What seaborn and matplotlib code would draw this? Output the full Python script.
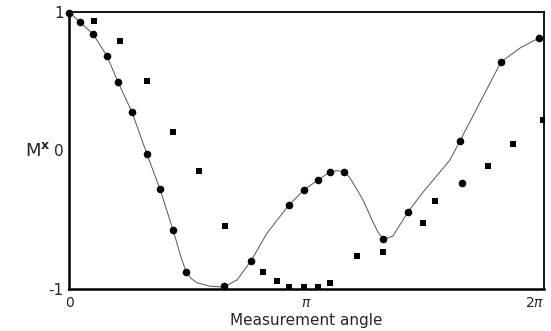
import numpy as np
import pandas as pd
import matplotlib
matplotlib.use("Agg")
import matplotlib.pyplot as plt
import seaborn as sns

PI = np.pi

# Data (x in units of pi)
circle_x = [0.00, 0.046, 0.101, 0.160, 0.206, 0.265, 0.328, 0.383, 0.438, 0.493,
            0.653, 0.766, 0.926, 0.989, 1.048, 1.099, 1.158, 1.322, 1.427, 1.646,
            1.655, 1.819, 1.979]
circle_y = [0.993, 0.928, 0.841, 0.682, 0.495, 0.278, -0.025, -0.278, -0.574, -0.877,
            -0.978, -0.798, -0.394, -0.285, -0.213, -0.155, -0.155, -0.639, -0.444, 0.069,
            -0.235, 0.639, 0.812]

square_x = [0.105, 0.215, 0.328, 0.438, 0.547, 0.657, 0.817, 0.876, 0.926, 0.989,
            1.048, 1.099, 1.213, 1.322, 1.491, 1.541, 1.764, 1.869, 1.995]
square_y = [0.935, 0.791, 0.502, 0.134, -0.148, -0.545, -0.877, -0.942, -0.986, -0.986,
            -0.986, -0.957, -0.762, -0.733, -0.523, -0.365, -0.112, 0.047, 0.220]

curve_x = [0.000, 0.046, 0.101, 0.160, 0.206, 0.265, 0.328, 0.383, 0.438, 0.470,
           0.493, 0.515, 0.539, 0.594, 0.653, 0.707, 0.766, 0.834, 0.926, 0.989,
           1.048, 1.099, 1.130, 1.158, 1.180, 1.196, 1.238, 1.276, 1.301, 1.318,
           1.331, 1.364, 1.427, 1.491, 1.604, 1.646, 1.819, 1.899, 1.979]
curve_y = [1.000, 0.928, 0.841, 0.682, 0.495, 0.278, -0.025, -0.278, -0.574, -0.760,
           -0.877, -0.925, -0.955, -0.980, -0.986, -0.935, -0.798, -0.596, -0.394, -0.285,
           -0.213, -0.155, -0.145, -0.155, -0.190, -0.235, -0.357, -0.502, -0.590, -0.628,
           -0.639, -0.617, -0.444, -0.300, -0.069, 0.069, 0.639, 0.740, 0.812]

xtick_pos = [0, 1, 2]
xtick_labels = ["0", r"$\pi$", r"$2\pi$"]
ytick_pos = [-1, 0, 1]
ytick_labels = ["-1", "0", "1"]

sns.set_style("white")
plt.rcParams['font.family'] = ['DejaVu Sans']

fig = plt.figure(figsize=(5.51, 3.31), dpi=100)
ax = fig.add_axes([69/551, 1 - 289/331, (544 - 69)/551, (289 - 12)/331])

df_curve = pd.DataFrame({"x": np.array(curve_x) * PI, "y": curve_y})
df_c = pd.DataFrame({"x": np.array(circle_x) * PI, "y": circle_y})
df_s = pd.DataFrame({"x": np.array(square_x) * PI, "y": square_y})

sns.lineplot(data=df_curve, x="x", y="y", sort=False, estimator=None,
             color="#555555", linewidth=0.7, ax=ax)
sns.scatterplot(data=df_c, x="x", y="y", marker="o", s=30, color="black",
                edgecolor="black", linewidth=0, ax=ax, clip_on=False, zorder=3)
sns.scatterplot(data=df_s, x="x", y="y", marker="s", s=16, color="black",
                edgecolor="black", linewidth=0, ax=ax, zorder=3)

ax.set_xlim(0, 2 * PI)
ax.set_ylim(-1, 1)
ax.set_xticks([p * PI for p in xtick_pos])
ax.set_xticklabels(xtick_labels, fontsize=10)
ax.get_xticklabels()[-1].set_horizontalalignment("right")
ax.get_xticklabels()[-1].set_x(2 * PI)
ax.set_yticks(ytick_pos)
ax.set_yticklabels(ytick_labels, fontsize=11)
ax.set_xticks(np.arange(0, 2.01, 0.2) * PI, minor=True)
ax.set_yticks(np.arange(-1, 1.01, 0.25), minor=True)
ax.tick_params(axis="both", which="major", length=0, pad=4)
ax.tick_params(axis="both", which="minor", direction="in", length=2, width=0.6, color="black")
ax.tick_params(axis="x", which="major", pad=5)

for side in ["left", "bottom"]:
    ax.spines[side].set_linewidth(1.8)
    ax.spines[side].set_color("black")
for side in ["top", "right"]:
    ax.spines[side].set_linewidth(1.3)
    ax.spines[side].set_color("black")
    ax.spines[side].set_visible(True)

ax.set_xlabel("Measurement angle", fontsize=11, labelpad=2)
ax.set_ylabel(r"M$^{\mathbf{x}}$", fontsize=13, rotation=0, labelpad=14, va="center")
ax.yaxis.set_label_coords(-0.065, 0.5)

fig.savefig("out.png", dpi=100)
